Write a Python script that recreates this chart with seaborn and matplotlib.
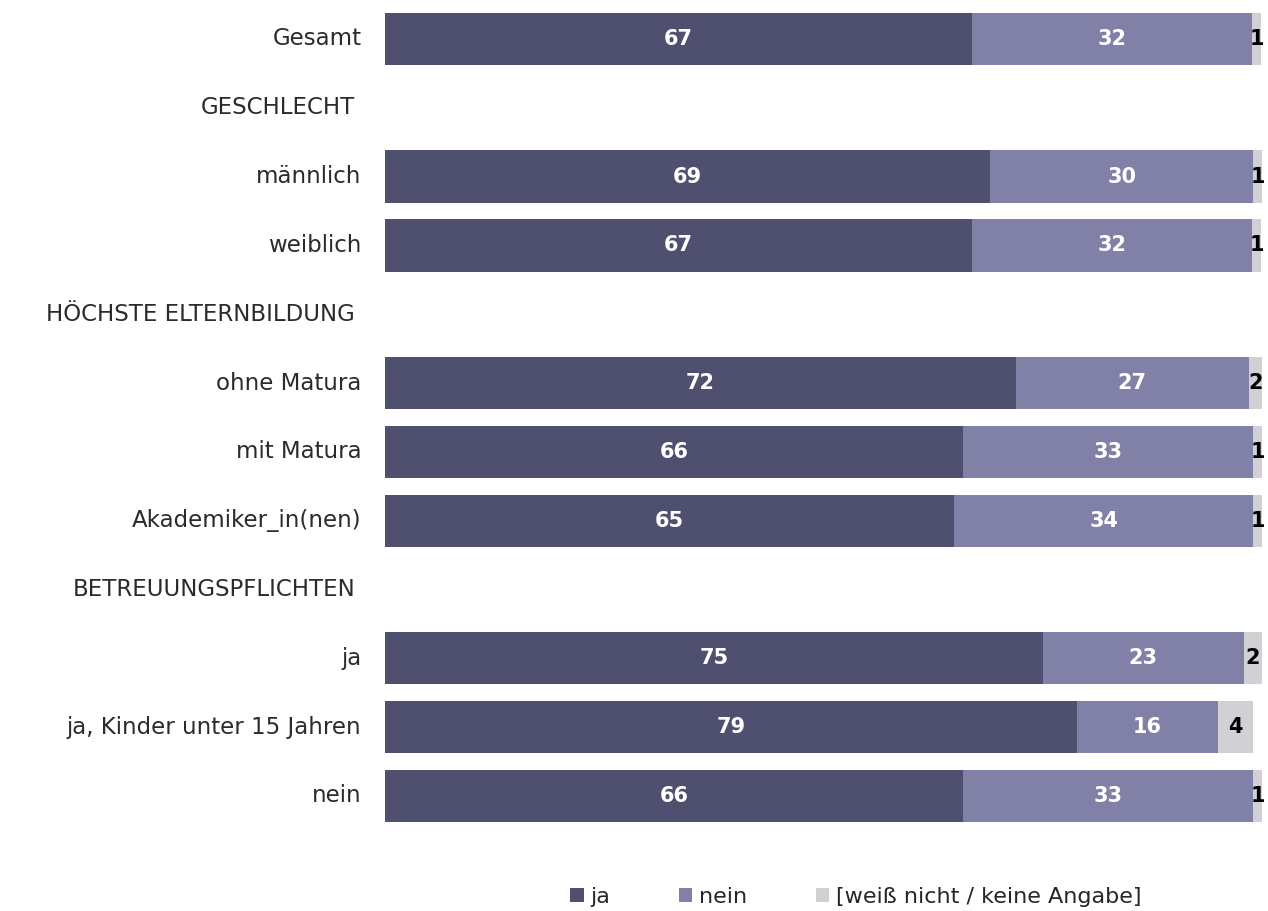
import seaborn as sns
import matplotlib.pyplot as plt
from matplotlib.patches import Patch
import numpy as np
import pandas as pd

sns.set_style('white')
plt.rcParams['font.family'] = ['DejaVu Sans']

# rows top to bottom, headers have no bar
rows = ['Gesamt', 'GESCHLECHT', 'männlich', 'weiblich', 'HÖCHSTE ELTERNBILDUNG',
        'ohne Matura', 'mit Matura', 'Akademiker_in(nen)', 'BETREUUNGSPFLICHTEN',
        'ja', 'ja, Kinder unter 15 Jahren', 'nein']
headers = ['GESCHLECHT', 'HÖCHSTE ELTERNBILDUNG', 'BETREUUNGSPFLICHTEN']

groups = ['Gesamt', 'männlich', 'weiblich', 'ohne Matura', 'mit Matura',
          'Akademiker_in(nen)', 'ja', 'ja, Kinder unter 15 Jahren', 'nein']
ja_vals = [66.9, 69.0, 66.9, 71.9, 65.9, 64.9, 75.0, 78.9, 65.9]
nein_vals = [32.0, 30.0, 32.0, 26.6, 33.1, 34.1, 22.9, 16.1, 33.1]
wn_vals = [1.0, 1.0, 1.0, 1.5, 1.0, 1.0, 2.1, 4.0, 1.0]

series = ['ja', 'nein', '[weiß nicht / keine Angabe]']
colors = ['#4f4f6f', '#8180a6', '#d1d1d5']

df = pd.DataFrame({'group': groups, 'ja': ja_vals, 'nein': nein_vals, 'wn': wn_vals})
df['c1'] = df['ja']
df['c2'] = df['ja'] + df['nein']
df['c3'] = df['c2'] + df['wn']

fig = plt.figure(figsize=(12.68, 9.11), dpi=100)
ax = fig.add_axes([0.3036, 0.0885, 0.6917, 0.9065])

# stacked look: draw cumulative totals from longest to shortest
for col, c in zip(['c3', 'c2', 'c1'], colors[::-1]):
    sns.barplot(data=df, x=col, y='group', order=rows, orient='h', color=c,
                saturation=1, width=0.76, errorbar=None, ax=ax, linewidth=0)

ax.set_xlim(0, 100)
ax.set_ylim(len(rows) - 0.5, -0.5)
ax.set_xlabel('')
ax.set_ylabel('')
ax.set_xticks([])
ax.set_yticks([])
sns.despine(ax=ax, left=True, bottom=True)

# value labels
for _, r in df.iterrows():
    y = rows.index(r['group'])
    starts = [0, r['c1'], r['c2']]
    for v, s, tc in zip([r['ja'], r['nein'], r['wn']], starts, ['white', 'white', 'black']):
        ax.text(s + v / 2, y, f'{v:.0f}', ha='center', va='center', color=tc,
                fontsize=15, fontweight='bold')

# row labels
ytr = ax.get_yaxis_transform()
for i, lab in enumerate(rows):
    off = -0.034 if lab in headers else -0.027
    ax.text(off, i, lab, transform=ytr, ha='right', va='center',
            fontsize=16.5, color='#2b2b2b')

handles = [Patch(facecolor=c, edgecolor='none') for c in colors]
fig.legend(handles, series, loc='center', bbox_to_anchor=(856 / 1268, 1 - 897 / 911),
           ncol=3, frameon=False, fontsize=16, handlelength=0.6, handleheight=0.6,
           handletextpad=0.3, columnspacing=3.1)

fig.savefig('out.png', dpi=100)
